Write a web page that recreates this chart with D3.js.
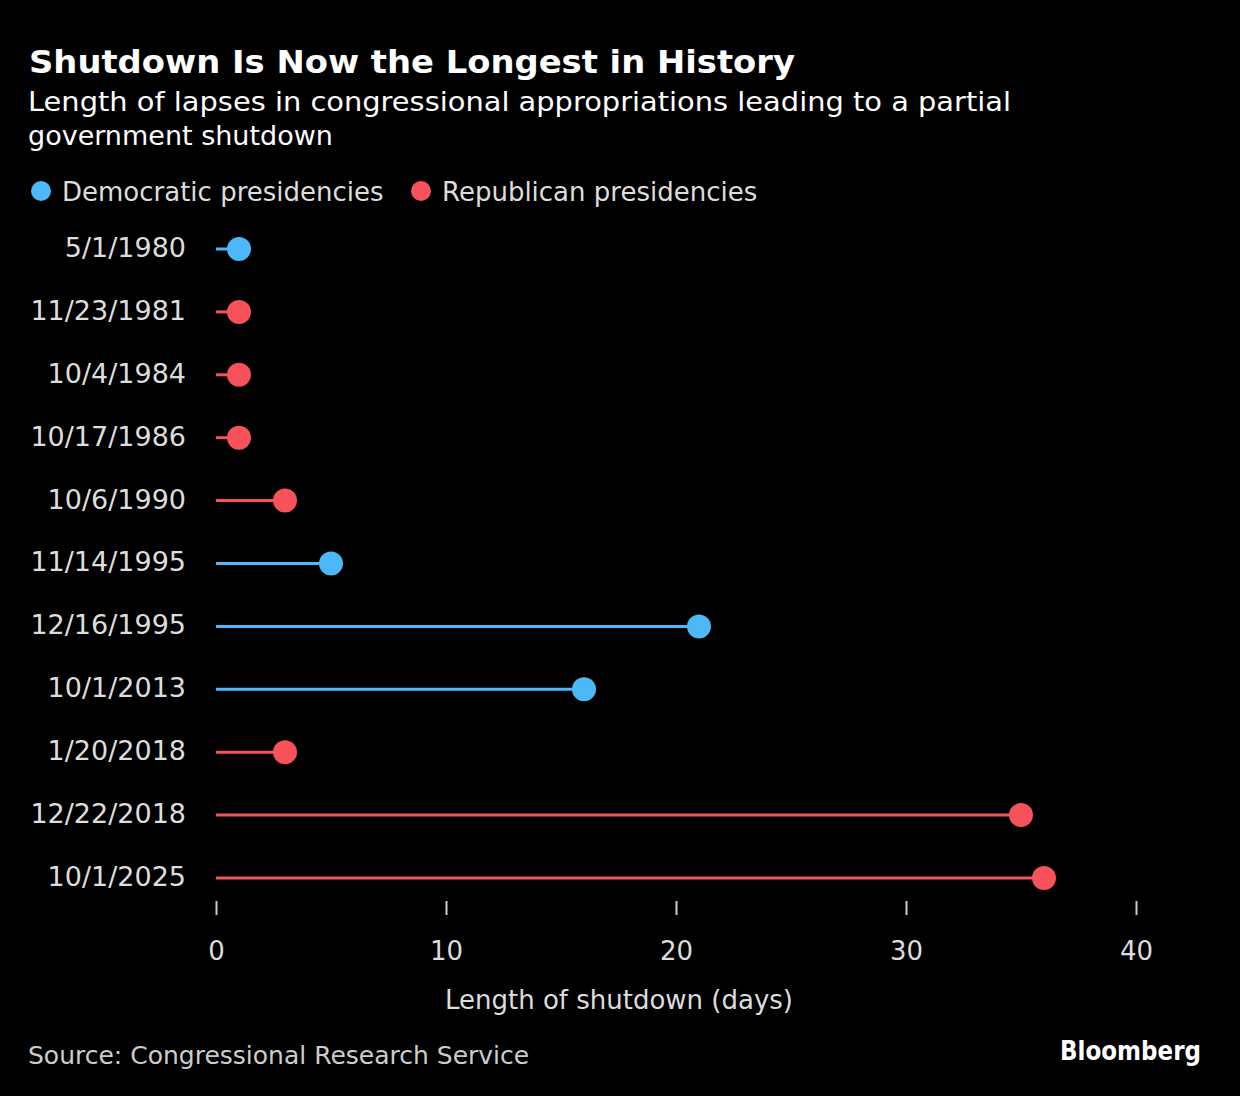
<!DOCTYPE html>
<html><head><meta charset="utf-8">
<script src="https://cdn.jsdelivr.net/npm/d3@7"></script>
<style>
html,body{margin:0;padding:0;background:#000;}
svg{display:block;}
text{font-family:"DejaVu Sans",sans-serif;}
</style></head>
<body>
<svg id="chart" width="1240" height="1096"></svg>
<script>
const dates = ["5/1/1980","11/23/1981","10/4/1984","10/17/1986","10/6/1990","11/14/1995","12/16/1995","10/1/2013","1/20/2018","12/22/2018","10/1/2025"];
const days = [1,1,1,1,3,5,21,16,3,35,36];
const party = ["D","R","R","R","R","D","D","D","R","R","R"];
const xTicks = [0,10,20,30,40];
const colors = {D:"#4db8f7", R:"#f7525a"};
const FONT = '"DejaVu Sans",sans-serif';

const svg = d3.select("#chart");
svg.append("rect").attr("width",1240).attr("height",1096).attr("fill","#000");

svg.append("text").attr("x",29).attr("y",73).attr("fill","#fff")
  .attr("font-size",32).attr("font-weight","bold").attr("textLength",766).attr("lengthAdjust","spacingAndGlyphs")
  .text("Shutdown Is Now the Longest in History");
svg.append("text").attr("x",28).attr("y",111).attr("fill","#fff").attr("font-size",27)
  .attr("textLength",983).attr("lengthAdjust","spacingAndGlyphs")
  .text("Length of lapses in congressional appropriations leading to a partial");
svg.append("text").attr("x",28).attr("y",145).attr("fill","#fff").attr("font-size",27)
  .text("government shutdown");

// legend
const leg = [{k:"D",label:"Democratic presidencies",x:41},{k:"R",label:"Republican presidencies",x:421}];
leg.forEach(l=>{
  svg.append("circle").attr("cx",l.x).attr("cy",191).attr("r",10).attr("fill",colors[l.k]);
  svg.append("text").attr("x",l.x+21).attr("y",201).attr("fill","#ddd").attr("font-size",26).text(l.label);
});

const x = d3.scaleLinear().domain([0,40]).range([216,1136]);
const y = d3.scalePoint().domain(dates).range([249,878]);

const data = dates.map((d,i)=>({date:d,days:days[i],party:party[i]}));

const g = svg.append("g");
g.selectAll("line.stem").data(data).join("line").attr("class","stem")
  .attr("x1",x(0)).attr("x2",d=>x(d.days))
  .attr("y1",d=>y(d.date)).attr("y2",d=>y(d.date))
  .attr("stroke",d=>colors[d.party]).attr("stroke-width",3);
g.selectAll("circle.dot").data(data).join("circle").attr("class","dot")
  .attr("cx",d=>x(d.days)).attr("cy",d=>y(d.date)).attr("r",12)
  .attr("fill",d=>colors[d.party]);

// y labels
const yAxis = svg.append("g").attr("transform","translate(186,-2)")
  .call(d3.axisLeft(y).tickSize(0).tickPadding(0));
yAxis.select(".domain").remove();
yAxis.selectAll("text").attr("fill","#ddd").attr("font-size",27)
  .attr("font-family",FONT).attr("dy","0.35em");

// x axis
const xAxis = svg.append("g").attr("transform","translate(0,901)")
  .call(d3.axisBottom(x).tickValues(xTicks).tickSize(14).tickPadding(27).tickFormat(d3.format("d")));
xAxis.select(".domain").remove();
xAxis.selectAll(".tick line").attr("stroke","#ccc").attr("stroke-width",2);
xAxis.selectAll("text").attr("fill","#ddd").attr("font-size",26)
  .attr("font-family",FONT);

svg.append("text").attr("x",619).attr("y",1009).attr("text-anchor","middle").attr("fill","#ddd")
  .attr("font-size",26).text("Length of shutdown (days)");

svg.append("text").attr("x",28).attr("y",1064).attr("fill","#ccc").attr("font-size",25)
  .text("Source: Congressional Research Service");
svg.append("text").attr("x",1060).attr("y",1060).attr("fill","#fff")
  .attr("font-size",27).attr("font-weight","bold").attr("textLength",141).attr("lengthAdjust","spacingAndGlyphs")
  .text("Bloomberg");
</script>
</body></html>
